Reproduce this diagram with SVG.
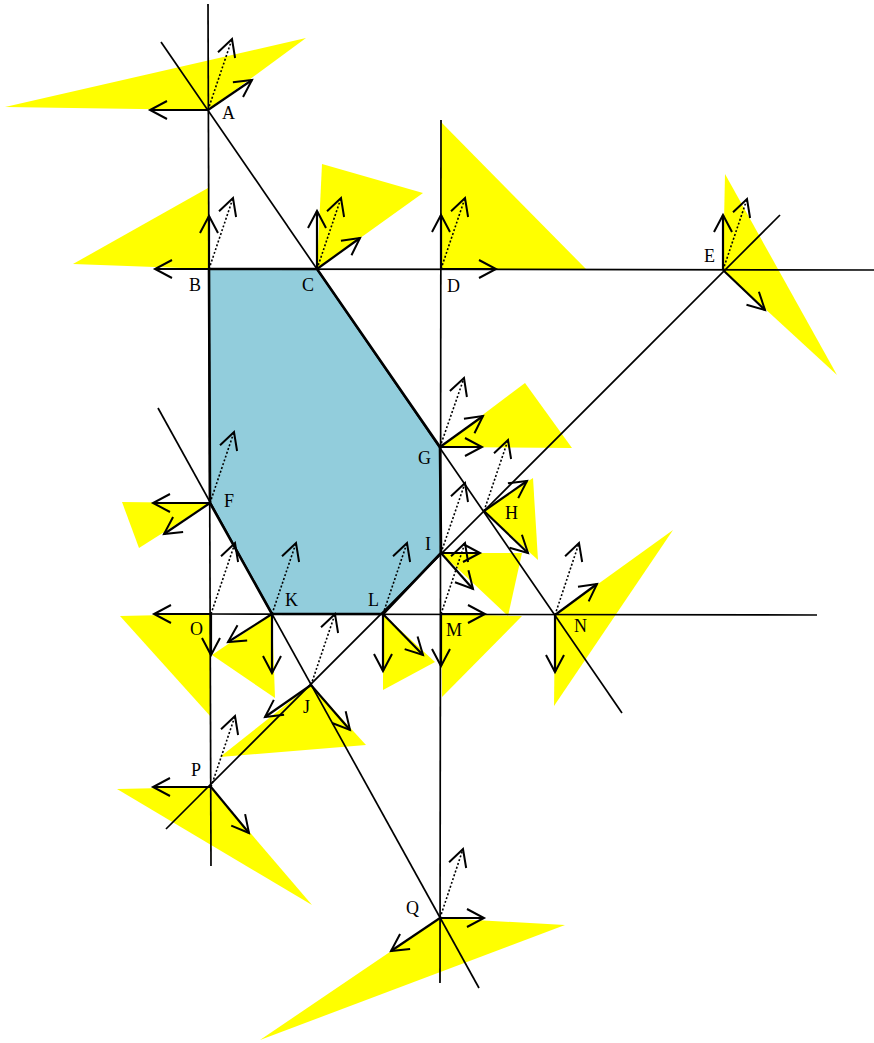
<svg xmlns="http://www.w3.org/2000/svg" width="874" height="1043" viewBox="0 0 874 1043">
<defs>
<marker id="ah" markerUnits="userSpaceOnUse" markerWidth="30" markerHeight="30" viewBox="-22 -15 30 30" refX="0" refY="0" orient="auto" overflow="visible">
<path d="M-17,-9 L0,0 L-17,9" fill="none" stroke="#000" stroke-width="2"/>
</marker>
</defs>
<style>
.cone{fill:#ffff00;stroke:none}
.ln{stroke:#000;stroke-width:1.7;fill:none}
.poly{fill:#92cddc;stroke:none}
.edge{fill:none;stroke:#000;stroke-width:2.6;stroke-linejoin:round}
.ar{stroke:#000;stroke-width:2.2;fill:none;marker-end:url(#ah)}
.dt{stroke:#000;stroke-width:1.6;stroke-dasharray:2 2;fill:none;marker-end:url(#ah)}
.lb{font-family:"Liberation Serif","DejaVu Serif",serif;font-size:18px;fill:#000}
</style>
<rect width="874" height="1043" fill="#fff"/>
<g id="cones">
<polygon class="cone" points="208,110 5,107 306,38"/>
<polygon class="cone" points="209,269 73,264 208,188"/>
<polygon class="cone" points="317,269 322,164 423,193"/>
<polygon class="cone" points="441,269 441,122 586,269"/>
<polygon class="cone" points="723,270 725,174 837,375"/>
<polygon class="cone" points="210,503 122,502 139,548"/>
<polygon class="cone" points="440,447 525,383 572,448"/>
<polygon class="cone" points="484,511 533,478 538,560"/>
<polygon class="cone" points="441,553 522,553 508,616"/>
<polygon class="cone" points="311,685 220,757 366,745"/>
<polygon class="cone" points="272,614 212,655 275,698"/>
<polygon class="cone" points="383,614 383,690 435,662"/>
<polygon class="cone" points="441,614 442,697 522,616"/>
<polygon class="cone" points="555,615 673,530 554,706"/>
<polygon class="cone" points="211,614 120,616 211,717"/>
<polygon class="cone" points="211,787 117,789 312,905"/>
<polygon class="cone" points="440,918 260,1040 565,925"/>
</g>
<g id="region">
<polygon class="poly" points="209,269 317,269 440,447 441,553 383,614 272,614 210,503"/>
</g>
<g id="connectors">
<line class="ln" x1="161" y1="42" x2="622" y2="713"/>
<line class="ln" x1="158" y1="408" x2="479" y2="988"/>
<line class="ln" x1="780" y1="215" x2="166" y2="829"/>
<line class="ln" x1="208" y1="4" x2="211" y2="866"/>
<line class="ln" x1="441" y1="120" x2="440" y2="983"/>
<line class="ln" x1="209" y1="269" x2="874" y2="270"/>
<line class="ln" x1="211" y1="614" x2="817" y2="615"/>
<polygon class="edge" points="209,269 317,269 440,447 441,553 383,614 272,614 210,503"/>
</g>
<g id="arrows">
<line class="ar" x1="208" y1="110" x2="150" y2="110"/>
<line class="ar" x1="208" y1="110" x2="252" y2="80"/>
<line class="ar" x1="209" y1="269" x2="155" y2="269"/>
<line class="ar" x1="209" y1="269" x2="209" y2="216"/>
<line class="ar" x1="317" y1="269" x2="317" y2="211"/>
<line class="ar" x1="317" y1="269" x2="360" y2="238"/>
<line class="ar" x1="441" y1="269" x2="441" y2="215"/>
<line class="ar" x1="441" y1="269" x2="496" y2="269"/>
<line class="ar" x1="723" y1="270" x2="723" y2="215"/>
<line class="ar" x1="723" y1="270" x2="765" y2="310"/>
<line class="ar" x1="210" y1="503" x2="153" y2="503"/>
<line class="ar" x1="210" y1="503" x2="164" y2="534"/>
<line class="ar" x1="440" y1="447" x2="482" y2="447"/>
<line class="ar" x1="440" y1="447" x2="483" y2="416"/>
<line class="ar" x1="484" y1="511" x2="527" y2="481"/>
<line class="ar" x1="484" y1="511" x2="528" y2="553"/>
<line class="ar" x1="441" y1="553" x2="480" y2="553"/>
<line class="ar" x1="441" y1="553" x2="473" y2="589"/>
<line class="ar" x1="311" y1="685" x2="265" y2="717"/>
<line class="ar" x1="311" y1="685" x2="350" y2="730"/>
<line class="ar" x1="272" y1="614" x2="228" y2="642"/>
<line class="ar" x1="272" y1="614" x2="272" y2="673"/>
<line class="ar" x1="383" y1="614" x2="383" y2="671"/>
<line class="ar" x1="383" y1="614" x2="423" y2="655"/>
<line class="ar" x1="441" y1="614" x2="485" y2="614"/>
<line class="ar" x1="441" y1="614" x2="441" y2="666"/>
<line class="ar" x1="555" y1="615" x2="597" y2="584"/>
<line class="ar" x1="555" y1="615" x2="555" y2="672"/>
<line class="ar" x1="211" y1="614" x2="154" y2="614"/>
<line class="ar" x1="211" y1="614" x2="211" y2="655"/>
<line class="ar" x1="211" y1="787" x2="153" y2="787"/>
<line class="ar" x1="211" y1="787" x2="249" y2="833"/>
<line class="ar" x1="440" y1="918" x2="484" y2="918"/>
<line class="ar" x1="440" y1="918" x2="391" y2="951"/>
</g>
<g id="objective">
<line class="dt" x1="208" y1="110" x2="232" y2="39"/>
<line class="dt" x1="209" y1="269" x2="233" y2="198"/>
<line class="dt" x1="317" y1="269" x2="341" y2="198"/>
<line class="dt" x1="441" y1="269" x2="465" y2="198"/>
<line class="dt" x1="723" y1="270" x2="747" y2="199"/>
<line class="dt" x1="210" y1="503" x2="234" y2="432"/>
<line class="dt" x1="440" y1="447" x2="464" y2="378"/>
<line class="dt" x1="484" y1="511" x2="508" y2="440"/>
<line class="dt" x1="441" y1="553" x2="465" y2="483"/>
<line class="dt" x1="311" y1="685" x2="335" y2="614"/>
<line class="dt" x1="272" y1="614" x2="296" y2="543"/>
<line class="dt" x1="383" y1="614" x2="407" y2="543"/>
<line class="dt" x1="441" y1="614" x2="465" y2="543"/>
<line class="dt" x1="555" y1="615" x2="579" y2="543"/>
<line class="dt" x1="211" y1="614" x2="235" y2="543"/>
<line class="dt" x1="211" y1="787" x2="235" y2="716"/>
<line class="dt" x1="440" y1="918" x2="463" y2="849"/>
</g>
<g id="labels">
<g id="nA"><text class="lb" x="222" y="119">A</text></g>
<g id="nB"><text class="lb" x="189" y="291">B</text></g>
<g id="nC"><text class="lb" x="302" y="291">C</text></g>
<g id="nD"><text class="lb" x="447" y="292">D</text></g>
<g id="nE"><text class="lb" x="704" y="262">E</text></g>
<g id="nF"><text class="lb" x="224" y="507">F</text></g>
<g id="nG"><text class="lb" x="418" y="464">G</text></g>
<g id="nH"><text class="lb" x="505" y="519">H</text></g>
<g id="nI"><text class="lb" x="425" y="550">I</text></g>
<g id="nJ"><text class="lb" x="303" y="713">J</text></g>
<g id="nK"><text class="lb" x="285" y="606">K</text></g>
<g id="nL"><text class="lb" x="368" y="606">L</text></g>
<g id="nM"><text class="lb" x="446" y="636">M</text></g>
<g id="nN"><text class="lb" x="574" y="632">N</text></g>
<g id="nO"><text class="lb" x="190" y="635">O</text></g>
<g id="nP"><text class="lb" x="191" y="776">P</text></g>
<g id="nQ"><text class="lb" x="406" y="914">Q</text></g>
</g>
</svg>
